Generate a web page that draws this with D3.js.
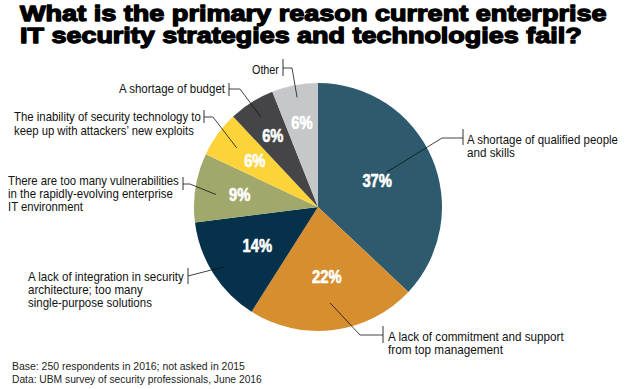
<!DOCTYPE html>
<html>
<head>
<meta charset="utf-8">
<script src="https://cdn.jsdelivr.net/npm/d3@7"></script>
<style>
  html, body { margin: 0; padding: 0; background: #fff; }
  svg { display: block; }
</style>
</head>
<body>
<svg id="chart" width="626" height="389"></svg>
<script>
// ---- data ----
const categories = [
  "A shortage of qualified people and skills",
  "A lack of commitment and support from top management",
  "A lack of integration in security architecture; too many single-purpose solutions",
  "There are too many vulnerabilities in the rapidly-evolving enterprise IT environment",
  "The inability of security technology to keep up with attackers' new exploits",
  "A shortage of budget",
  "Other"
];
const values = [37, 22, 14, 9, 6, 6, 6];
const labelLines = [
  ["A shortage of qualified people", "and skills"],
  ["A lack of commitment and support", "from top management"],
  ["A lack of integration in security", "architecture; too many", "single-purpose solutions"],
  ["There are too many vulnerabilities", "in the rapidly-evolving enterprise", "IT environment"],
  ["The inability of security technology to", "keep up with attackers\u2019 new exploits"],
  ["A shortage of budget"],
  ["Other"]
];
const titleLines = [
  "What is the primary reason current enterprise",
  "IT security strategies and technologies fail?"
];
const footnotes = [
  "Base: 250 respondents in 2016; not asked in 2015",
  "Data: UBM survey of security professionals, June 2016"
];

// ---- styles / layout ----
const colors = ["#2d5a6d", "#d68e2f", "#05314a", "#a1a86b", "#fdd33a", "#454547", "#c6c7c9"];
const cx = 318, cy = 207, R = 124;
const layout = [
  {x: 467, y: 144, lh: 13, w: [151, 48], bx: 463, by0: 129, by1: 145, ex: 442, ey: 138, ar: 0.62, aoff: -3.5, pr: 0.52},
  {x: 388, y: 341, lh: 13, w: [176, 115], bx: 383, by0: 326, by1: 343, ex: 360, ey: 335, ar: 0.78, aoff: 0, pr: 0.57},
  {x: 28, y: 280.5, lh: 13, w: [156, 115, 124], bx: 188, by0: 268, by1: 284, ex: 188, ey: 276, ar: 0.9, aoff: 0, pr: 0.58},
  {x: 8, y: 184.5, lh: 13.4, w: [171, 165, 75], bx: 183, by0: 177, by1: 190, ex: 190, ey: 184, ar: 0.83, aoff: -2, pr: 0.64},
  {x: 14, y: 121, lh: 13.5, w: [187, 180], bx: 204, by0: 110, by1: 123, ex: 213, ey: 117, ar: 0.81, aoff: 0, pr: 0.63},
  {x: 119, y: 93, lh: 13, w: [106], bx: 229, by0: 83, by1: 96, ex: 240, ey: 89, ar: 0.86, aoff: 0, pr: 0.68},
  {x: 252, y: 74, lh: 13, w: [27], bx: 283, by0: 59, by1: 76, ex: 292, ey: 68, ar: 0.9, aoff: 0, pr: 0.69}
];

const svg = d3.select("#chart");

// condensed text: draw at natural width, then scale horizontally to target width
function condensedText(parent, str, x, y, targetW, attrs) {
  const grp = parent.append("g");
  const t = grp.append("text").attr("x", 0).attr("y", 0);
  Object.entries(attrs).forEach(([k, v]) => t.attr(k, v));
  t.text(str);
  const w = t.node().getComputedTextLength();
  const sx = targetW / w;
  grp.attr("transform", `translate(${x},${y}) scale(${sx},1)`);
  return grp;
}

// title
const titleY = [21, 43], titleW = [587, 562];
titleLines.forEach((t, i) => {
  condensedText(svg, t, 20, titleY[i], titleW[i], {
    "font-family": "'Liberation Sans', Arial, sans-serif",
    "font-weight": 900, "font-size": 22, "fill": "#000",
    "stroke": "#000", "stroke-width": 1.3, "stroke-linejoin": "round"
  });
});

// pie
const pie = d3.pie().sort(null).value(d => d)(values);
const arc = d3.arc().innerRadius(0).outerRadius(R);
const g = svg.append("g").attr("transform", `translate(${cx},${cy})`);
g.selectAll("path.slice").data(pie).join("path")
  .attr("class", "slice")
  .attr("d", arc)
  .attr("fill", (d, i) => colors[i]);

function polar(angle, r) {
  return [Math.sin(angle) * r, -Math.cos(angle) * r];
}

// percent labels
g.selectAll("text.pct").data(pie).join("text")
  .attr("class", "pct")
  .each(function (d, i) {
    const mid = (d.startAngle + d.endAngle) / 2;
    const [x, y] = polar(mid, R * layout[i].pr);
    const t = d3.select(this)
      .attr("x", x).attr("y", y + 6)
      .attr("text-anchor", "middle")
      .attr("font-family", "'Liberation Sans', Arial, sans-serif")
      .attr("font-weight", 700)
      .attr("font-size", 18)
      .attr("fill", "#fff")
      .attr("stroke", "#fff").attr("stroke-width", 0.6)
      .attr("stroke-linejoin", "round")
      .text(d.data + "%");
    const w = this.getComputedTextLength();
    t.attr("textLength", w * 0.82).attr("lengthAdjust", "spacingAndGlyphs");
  });

// leader lines and labels
const lab = svg.append("g");
pie.forEach((d, i) => {
  const L = layout[i];
  const mid = (d.startAngle + d.endAngle) / 2 + L.aoff * Math.PI / 180;
  const [ax, ay] = polar(mid, R * L.ar);
  lab.append("line")
    .attr("x1", L.bx).attr("x2", L.bx).attr("y1", L.by0).attr("y2", L.by1)
    .attr("stroke", "#333").attr("stroke-width", 1);
  lab.append("path")
    .attr("d", d3.line()([[L.bx, L.ey], [L.ex, L.ey], [cx + ax, cy + ay]]))
    .attr("fill", "none").attr("stroke", "#111").attr("stroke-width", 0.8);
  labelLines[i].forEach((line, j) => {
    condensedText(lab, line, L.x, L.y + j * L.lh, L.w[j], {
      "font-family": "'Liberation Sans', Arial, sans-serif",
      "font-size": 12.5, "fill": "#111"
    });
  });
});

// footnotes
const fnY = [370, 383], fnW = [233, 250];
footnotes.forEach((t, i) => {
  condensedText(svg, t, 12, fnY[i], fnW[i], {
    "font-family": "'Liberation Sans', Arial, sans-serif",
    "font-size": 10.5, "fill": "#222"
  });
});
</script>
</body>
</html>
